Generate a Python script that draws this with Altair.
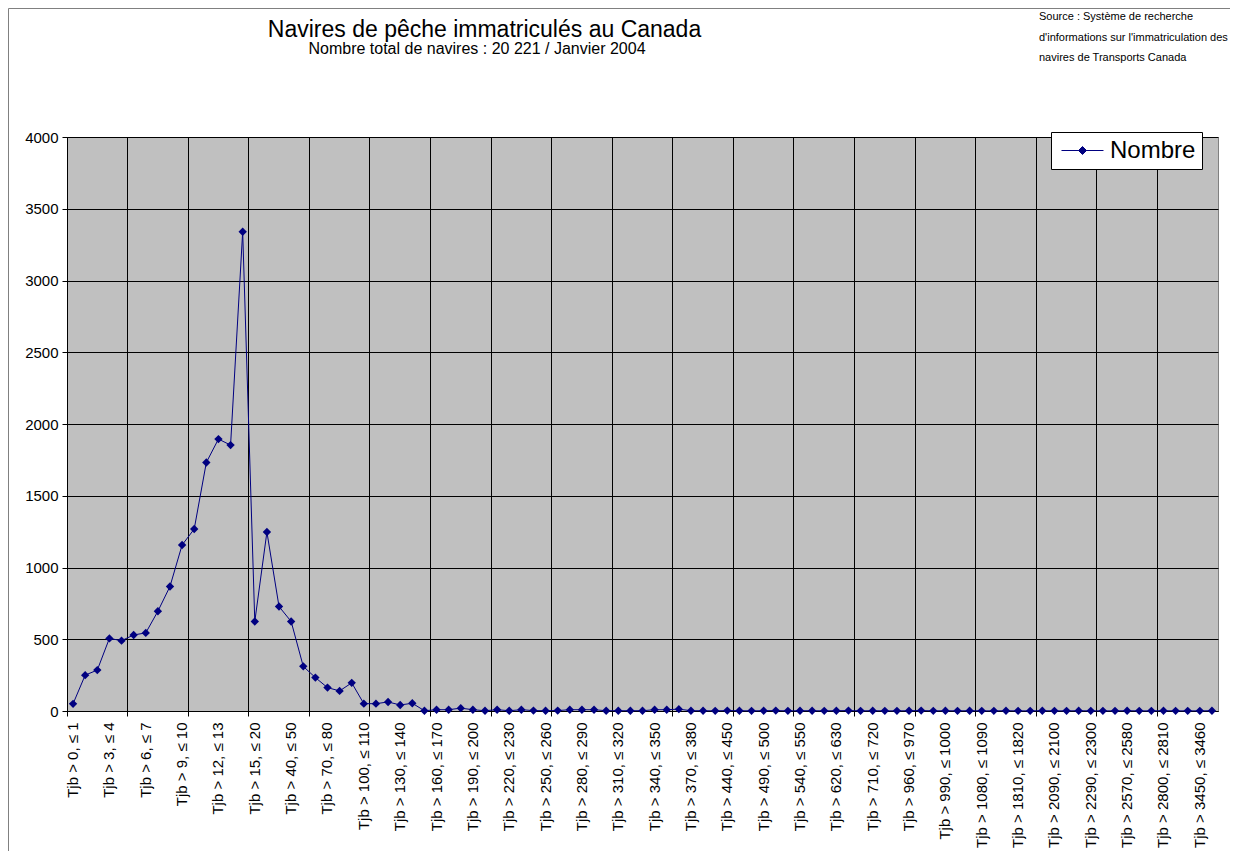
import altair as alt
import pandas as pd

FONT = "Liberation Sans, Arial, sans-serif"
NAVY = "#000080"

# Category bounds (tonnage brut, Tjb)
LOWS = [0, 1, 2, 3, 4, 5, 6, 7, 8, 9, 10, 11, 12, 13, 14, 15, 20, 30, 40, 50,
        60, 70, 80, 90, 100, 110, 120, 130, 140, 150, 160, 170, 180, 190, 200, 210, 220, 230, 240, 250,
        260, 270, 280, 290, 300, 310, 320, 330, 340, 350, 360, 370, 390, 410, 440, 450, 470, 490, 500, 520,
        540, 560, 590, 620, 650, 690, 710, 750, 870, 960, 970, 980, 990, 1000, 1040, 1080, 1200, 1470, 1810, 1900,
        2030, 2090, 2130, 2210, 2290, 2370, 2450, 2570, 2620, 2740, 2800, 3000, 3300, 3450, 3740]
HIGHS = [1, 2, 3, 4, 5, 6, 7, 8, 9, 10, 11, 12, 13, 14, 15, 20, 30, 40, 50, 60,
         70, 80, 90, 100, 110, 120, 130, 140, 150, 160, 170, 180, 190, 200, 210, 220, 230, 240, 250, 260,
         270, 280, 290, 300, 310, 320, 330, 340, 350, 360, 370, 380, 400, 420, 450, 460, 480, 500, 510, 530,
         550, 570, 600, 630, 660, 700, 720, 760, 880, 970, 980, 990, 1000, 1010, 1050, 1090, 1210, 1480, 1820, 1910,
         2040, 2100, 2140, 2220, 2300, 2380, 2460, 2580, 2630, 2750, 2810, 3010, 3310, 3460, 3750]

# Number of vessels per category
COUNTS = [50, 250, 285, 506, 490, 530, 544, 695, 868, 1157,
          1268, 1732, 1895, 1853, 3340, 624, 1247, 728, 624, 311,
          233, 163, 140, 196, 51, 51, 63, 42, 54, 2,
          9, 9, 20, 9, 2, 9, 2, 9, 3, 2,
          3, 9, 9, 9, 2, 2, 2, 2, 9, 9,
          13, 2, 2, 1, 3, 2, 1, 2, 3, 1,
          2, 2, 1, 2, 3, 1, 2, 1, 1, 2,
          3, 1, 2, 1, 2, 1, 1, 2, 1, 1,
          2, 1, 1, 2, 1, 1, 1, 2, 1, 1,
          2, 1, 1, 1, 2]

SERIES = "Nombre"
Y_TICKS = [0, 500, 1000, 1500, 2000, 2500, 3000, 3500, 4000]

TITLE = "Navires de pêche immatriculés au Canada"
SUBTITLE = "Nombre total de navires : 20 221 / Janvier 2004"
SOURCE = ["Source : Système de recherche",
          "d'informations sur l'immatriculation des",
          "navires de Transports Canada"]

LABELS = [f"Tjb > {lo}, \u2264 {hi}" for lo, hi in zip(LOWS, HIGHS)]
assert len(LABELS) == len(COUNTS) == 95

df = pd.DataFrame({"cat": LABELS, "n": COUNTS, "serie": SERIES})
one = pd.DataFrame({"k": [0]})

W, H = 1151, 574

xscale = alt.Scale(type="band", domain=LABELS, paddingInner=0, paddingOuter=0)
yenc = alt.Y("n:Q", scale=alt.Scale(domain=[0, 4000]),
             axis=alt.Axis(values=Y_TICKS, format="d", title=None, grid=True, gridColor="black",
                           gridWidth=1, gridOpacity=1, tickColor="black", tickSize=5,
                           domainColor="black", labelFontSize=15, labelFont=FONT,
                           labelColor="black", labelPadding=4))

x_grid = alt.X("cat:N", scale=xscale,
               axis=alt.Axis(orient="bottom", values=LABELS[0::5], labels=False, title=None,
                             grid=True, gridColor="black", gridOpacity=1, gridWidth=1,
                             bandPosition=0, ticks=True, tickColor="black", tickSize=5,
                             domain=True, domainColor="black"))
x_lab = alt.X("cat:N", scale=xscale,
              axis=alt.Axis(orient="bottom", values=LABELS[0::3], title=None, grid=False,
                            ticks=False, domain=False, labelAngle=-90, labelAlign="right",
                            labelBaseline="middle", labelPadding=11, labelFontSize=15,
                            labelFont=FONT, labelColor="black", labelOverlap=False,
                            labelLimit=0))

legend = alt.Legend(title=None, orient="none", legendX=984, legendY=-5,
                    symbolType="M-0.667,0L2.833,0M1.083,-0.333L1.417,0L1.083,0.333L0.75,0Z",
                    symbolSize=576, symbolFillColor=NAVY, symbolStrokeColor=NAVY,
                    symbolStrokeWidth=1, symbolOpacity=1, labelFontSize=24, labelFont=FONT,
                    labelColor="black", labelOffset=28, padding=6, fillColor="white",
                    strokeColor="black")

line = alt.Chart(df).mark_line(strokeWidth=1).encode(
    x=x_grid, y=yenc,
    color=alt.Color("serie:N", scale=alt.Scale(range=[NAVY]), legend=legend),
)
points = alt.Chart(df).mark_point(shape="diamond", filled=True, size=70, color=NAVY,
                                  opacity=1).encode(x=x_lab, y="n:Q")

frame = alt.Chart(one).mark_rect(filled=False, stroke="#808080", strokeWidth=1).encode(
    x=alt.value(-58.5), x2=alt.value(W + 60), y=alt.value(-128.5), y2=alt.value(H + 300))

title_t = alt.Chart(one).mark_text(fontSize=23, font=FONT, color="black", align="center",
                                   baseline="alphabetic").encode(
    x=alt.value(417.5), y=alt.value(-100), text=alt.value(TITLE))
sub_t = alt.Chart(one).mark_text(fontSize=16, font=FONT, color="black", align="center",
                                 baseline="alphabetic").encode(
    x=alt.value(410), y=alt.value(-83), text=alt.value(SUBTITLE))
src_t = alt.Chart(one).mark_text(fontSize=11, font=FONT, color="black", align="left",
                                 baseline="alphabetic", lineHeight=20.5).encode(
    x=alt.value(972), y=alt.value(-117), text=alt.value(SOURCE))

chart = alt.layer(frame, line, points, title_t, sub_t, src_t).resolve_axis(
    x="independent"
).properties(
    width=W, height=H,
    autosize=alt.AutoSizeParams(type="none"),
    padding={"left": 59, "top": 129, "right": 12, "bottom": 140},
    background="white",
).configure_view(stroke="#808080", strokeWidth=1, fill="#C0C0C0")

chart.save("out.html", embed_options={"renderer": "svg", "actions": False})
